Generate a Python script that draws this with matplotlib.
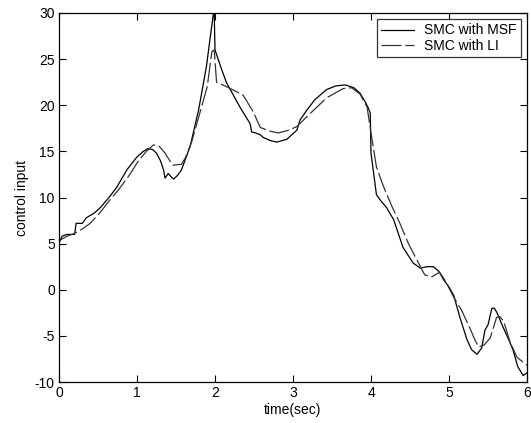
import matplotlib
matplotlib.use("Agg")
import matplotlib.pyplot as plt

plt.rcParams['font.family'] = ['Liberation Sans', 'DejaVu Sans']
plt.rcParams['axes.unicode_minus'] = False

# SMC with MSF (solid)
t_msf = [0.0, 0.04, 0.1, 0.2, 0.22, 0.3, 0.35, 0.45, 0.53, 0.64, 0.74, 0.87, 1.0, 1.08,
         1.14, 1.2, 1.25, 1.3, 1.34, 1.36, 1.4, 1.43, 1.47, 1.52, 1.57, 1.68, 1.79, 1.89,
         1.98, 1.99, 2.0, 2.08, 2.15, 2.32, 2.45, 2.47, 2.52, 2.58, 2.62, 2.7, 2.79, 2.92,
         3.05, 3.09, 3.18, 3.28, 3.43, 3.55, 3.67, 3.78, 3.86, 3.93, 3.96, 3.99, 3.995,
         4.0, 4.07, 4.13, 4.2, 4.29, 4.41, 4.54, 4.63, 4.72, 4.8, 4.87, 4.93, 5.0, 5.06,
         5.14, 5.23, 5.29, 5.36, 5.42, 5.46, 5.5, 5.55, 5.58, 5.61, 5.69, 5.76, 5.82, 5.88,
         5.95, 6.0]
y_msf = [5.1, 5.8, 6.0, 6.0, 7.2, 7.2, 7.8, 8.3, 8.9, 10.0, 11.1, 13.0, 14.4, 15.0,
         15.3, 15.2, 14.8, 14.0, 13.0, 12.1, 12.6, 12.3, 12.0, 12.4, 13.0, 15.5, 19.5, 24.2,
         30.0, 30.0, 26.0, 24.0, 22.4, 19.8, 18.0, 17.1, 17.0, 16.8, 16.5, 16.2, 16.0, 16.3,
         17.3, 18.4, 19.5, 20.6, 21.7, 22.1, 22.2, 21.9, 21.3, 20.3, 19.8, 19.2, 17.0,
         14.8, 10.3, 9.6, 8.9, 7.6, 4.6, 2.9, 2.35, 2.5, 2.5, 2.0, 1.1, 0.3, -0.6,
         -3.0, -5.4, -6.5, -7.0, -6.3, -4.4, -3.8, -2.0, -2.0, -2.4, -4.0, -5.3, -6.5, -8.3,
         -9.3, -9.0]

# SMC with LI (dashed)
t_li = [0.0, 0.1, 0.2, 0.3, 0.4, 0.53, 0.64, 0.76, 0.9, 1.02, 1.12, 1.21, 1.28, 1.36,
        1.42, 1.46, 1.57, 1.62, 1.7, 1.8, 1.9, 1.96, 1.99, 2.02, 2.1, 2.2, 2.36, 2.49,
        2.58, 2.7, 2.81, 2.95, 3.05, 3.22, 3.43, 3.64, 3.75, 3.86, 3.95, 4.0, 4.07, 4.16,
        4.27, 4.37, 4.48, 4.59, 4.69, 4.78, 4.88, 4.95, 5.06, 5.16, 5.27, 5.33, 5.38,
        5.45, 5.53, 5.61, 5.65, 5.7, 5.78, 5.87, 6.0]
y_li = [5.3, 5.8, 6.1, 6.6, 7.2, 8.4, 9.6, 10.8, 12.4, 14.0, 15.0, 15.7, 15.6, 14.8,
        14.0, 13.5, 13.6, 14.3, 16.0, 19.0, 22.0, 25.8, 26.0, 22.5, 22.2, 21.8, 21.1, 19.3,
        17.6, 17.2, 17.0, 17.3, 17.7, 19.1, 20.8, 21.8, 21.9, 21.2, 19.8, 17.0, 13.3, 11.2,
        9.0, 7.2, 5.0, 3.2, 1.6, 1.4, 1.9, 1.0, -0.8, -2.2, -4.2, -5.4, -6.2,
        -6.0, -5.2, -3.0, -2.9, -3.4, -5.6, -7.3, -8.2]

fig = plt.figure(figsize=(5.31, 4.23), dpi=100)
ax = fig.add_axes([59 / 531, 1 - 382 / 423, 468 / 531, 369 / 423])

ax.plot(t_msf, y_msf, color='black', lw=0.9, label='SMC with MSF')
ax.plot(t_li, y_li, color='#333333', lw=0.9, linestyle=(0, (16, 3)), label='SMC with LI')

ax.set_xlim(0, 6)
ax.set_ylim(-10, 30)
ax.set_xticks(range(0, 7))
ax.set_yticks(range(-10, 31, 5))
ax.tick_params(direction='in', top=True, right=True, length=5, width=0.8,
               labelsize=10, pad=3)
for s in ax.spines.values():
    s.set_linewidth(0.9)

ax.set_xlabel('time(sec)', fontsize=10, labelpad=2)
ax.set_ylabel('control input', fontsize=10, labelpad=4)

leg = ax.legend(loc='upper right', fontsize=10, frameon=True, fancybox=False,
                edgecolor='black', borderaxespad=0.45, handlelength=2.4,
                borderpad=0.3, labelspacing=0.1, handletextpad=0.7)
leg.get_frame().set_linewidth(0.9)

fig.savefig('out.png', dpi=100)
